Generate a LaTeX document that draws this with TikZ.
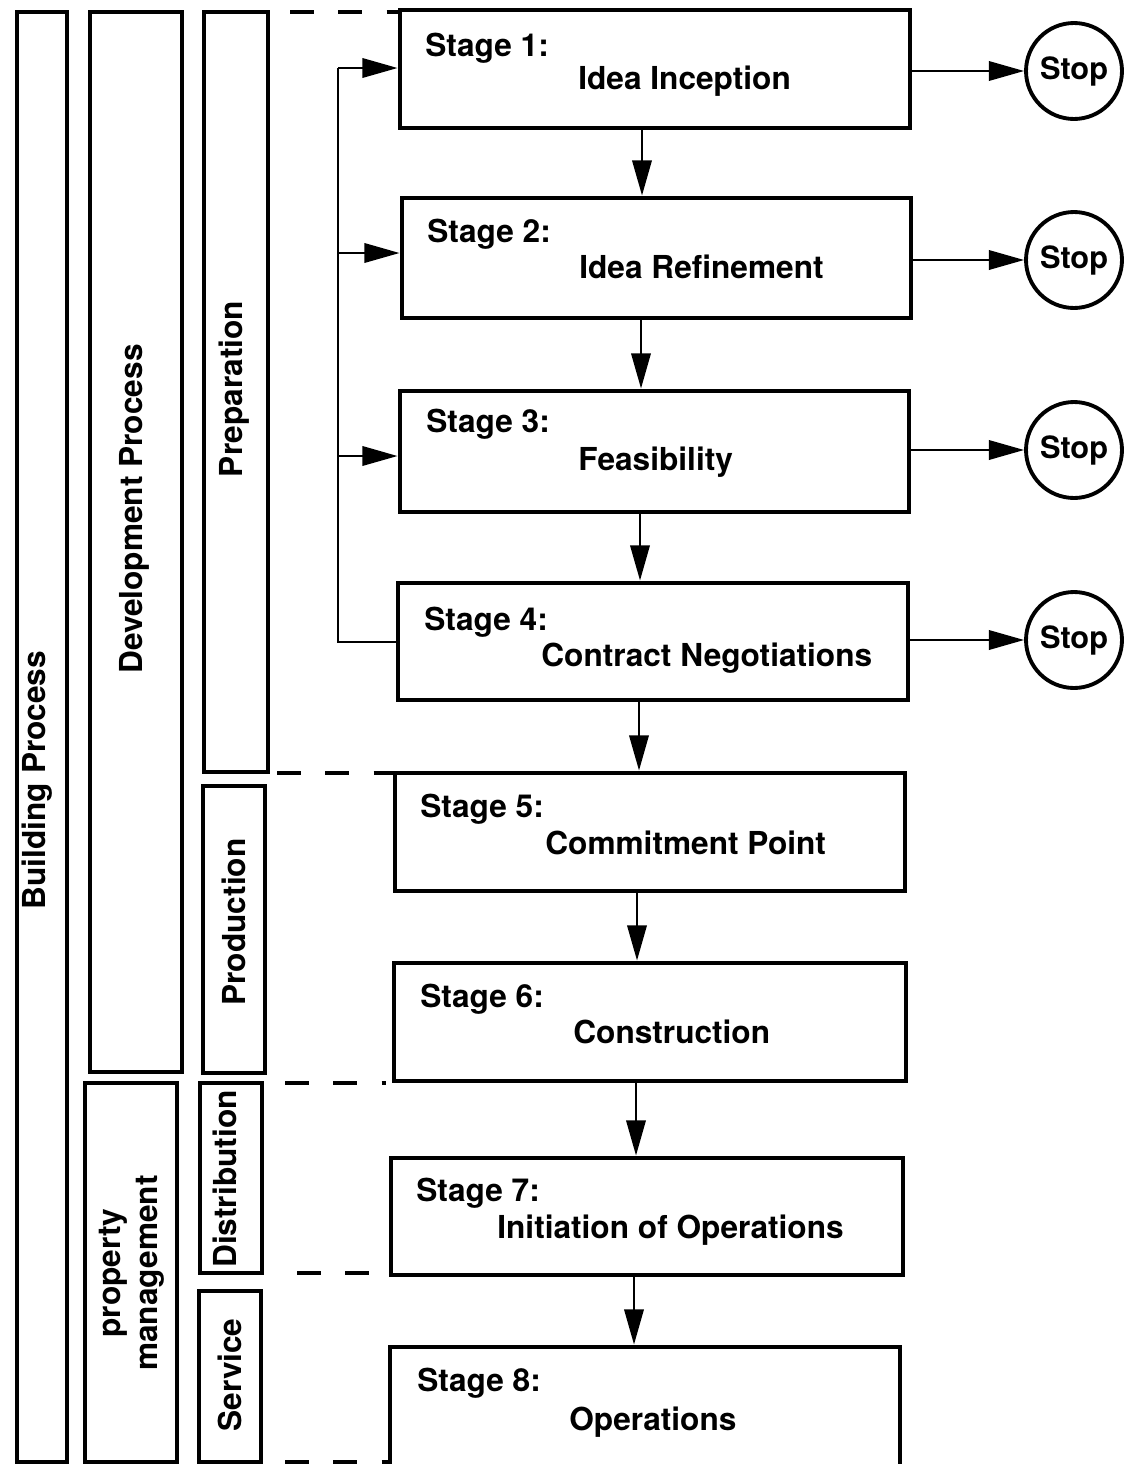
\documentclass[tikz,border=0pt]{standalone}
\usepackage{fontspec}
\setmainfont{TeX Gyre Heros}
\usetikzlibrary{arrows.meta,fit}

\begin{document}
\begin{tikzpicture}[x=0.02cm,y=-0.02cm,
  every node/.style={font=\bfseries\fontsize{18}{21}\selectfont},
  stagebox/.style={draw, line width=2.8pt, inner sep=0pt},
  band/.style={draw, line width=1.9pt, inner sep=0pt},
  bandtext/.style={rotate=90, inner sep=0pt, align=center},
  stopnode/.style={draw, circle, line width=2.2pt, minimum size=1.92cm, inner sep=0pt,
    font=\bfseries\fontsize{17.5}{20}\selectfont},
  flow/.style={line width=1.4pt, -{Triangle[length=20pt,width=11pt]}},
  feedback/.style={line width=1.4pt},
  phase/.style={line width=2pt, dash pattern=on 13.5pt off 14pt},
  lbl/.style={anchor=base west, inner sep=0pt},
]
\useasboundingbox (0,0) rectangle (1126,1464);
\clip (0,0) rectangle (1126,1464);

% process bands on the left
\node[band, fit={(17,12)(67,1462)}] (building) {};
\node[band, fit={(90,12)(182,1072)}] (devproc) {};
\node[band, fit={(85,1083)(177,1462)}] (propmgmt) {};
\node[band, fit={(204,12)(268,772)}] (prep) {};
\node[band, fit={(203,786)(265,1073)}] (prod) {};
\node[band, fit={(200,1083)(262,1273)}] (distr) {};
\node[band, fit={(199,1291)(261,1462)}] (serv) {};

\node[bandtext] (buildingtxt) at (37,780) {Building Process};
\node[bandtext] (devproctxt) at (134,509) {Development Process};
\node[bandtext] (propmgmttxt) at (132,1273) {property\\management};
\node[bandtext] (preptxt) at (234,389) {Preparation};
\node[bandtext] (prodtxt) at (234,922) {Production};
\node[bandtext] (distrtxt) at (225,1179) {Distribution};
\node[bandtext] (servtxt) at (230,1375) {Service};

% phase separators
\draw[phase] (290,12) -- (400,12);
\draw[phase] (277,773) -- (395,773);
\draw[phase] (285,1083) -- (386,1083);
\draw[phase] (297,1273) -- (372,1273);
\draw[phase] (285,1462) -- (390,1462);

% stage boxes
\node[stagebox, fit={(400,10)(910,128)}] (s1) {};
\node[stagebox, fit={(402,198)(911,318)}] (s2) {};
\node[stagebox, fit={(400,391)(909,512)}] (s3) {};
\node[stagebox, fit={(398,583)(908,700)}] (s4) {};
\node[stagebox, fit={(395,773)(905,891)}] (s5) {};
\node[stagebox, fit={(394,963)(906,1081)}] (s6) {};
\node[stagebox, fit={(391,1158)(903,1275)}] (s7) {};
\node[stagebox, fit={(390,1347)(900,1520)}] (s8) {};

% stage texts
\node[lbl] (s1a) at (425,56) {Stage 1:};
\node[lbl] (s1b) at (578,89) {Idea Inception};
\node[lbl] (s2a) at (427,242) {Stage 2:};
\node[lbl] (s2b) at (579,278) {Idea Refinement};
\node[lbl] (s3a) at (426,432) {Stage 3:};
\node[lbl] (s3b) at (578,470) {Feasibility};
\node[lbl] (s4a) at (424,630) {Stage 4:};
\node[lbl] (s4b) at (541,666) {Contract Negotiations};
\node[lbl] (s5a) at (420,817) {Stage 5:};
\node[lbl] (s5b) at (545,854) {Commitment Point};
\node[lbl] (s6a) at (420,1007) {Stage 6:};
\node[lbl] (s6b) at (573,1043) {Construction};
\node[lbl] (s7a) at (416,1201) {Stage 7:};
\node[lbl] (s7b) at (497,1238) {Initiation of Operations};
\node[lbl] (s8a) at (417,1391) {Stage 8:};
\node[lbl] (s8b) at (569,1430) {Operations};

% stop points
\node[stopnode] (stop1) at (1074,71) {Stop};
\node[stopnode] (stop2) at (1074,260) {Stop};
\node[stopnode] (stop3) at (1074,450) {Stop};
\node[stopnode] (stop4) at (1074,640) {Stop};

\draw[flow] (s1.east |- stop1) -- (stop1.west);
\draw[flow] (s2.east |- stop2) -- (stop2.west);
\draw[flow] (s3.east |- stop3) -- (stop3.west);
\draw[flow] (s4.east |- stop4) -- (stop4.west);

% main sequence
\draw[flow] (s1.south -| 642,0) -- (s2.north -| 642,0);
\draw[flow] (s2.south -| 641,0) -- (s3.north -| 641,0);
\draw[flow] (s3.south -| 640,0) -- (s4.north -| 640,0);
\draw[flow] (s4.south -| 639,0) -- (s5.north -| 639,0);
\draw[flow] (s5.south -| 637,0) -- (s6.north -| 637,0);
\draw[flow] (s6.south -| 636,0) -- (s7.north -| 636,0);
\draw[flow] (s7.south -| 634,0) -- (s8.north -| 634,0);

% feedback loop from stage 4 to the earlier stages
\coordinate (fbtop) at (338,68);
\coordinate (fb2) at (338,253);
\coordinate (fb3) at (338,456);
\coordinate (fbbot) at (338,642);
\draw[feedback] (s4.west |- fbbot) -- (fbbot) -- (fbtop);
\draw[flow] (fbtop) -- (s1.west |- fbtop);
\draw[flow] (fb2) -- (s2.west |- fb2);
\draw[flow] (fb3) -- (s3.west |- fb3);
\end{tikzpicture}
\end{document}
